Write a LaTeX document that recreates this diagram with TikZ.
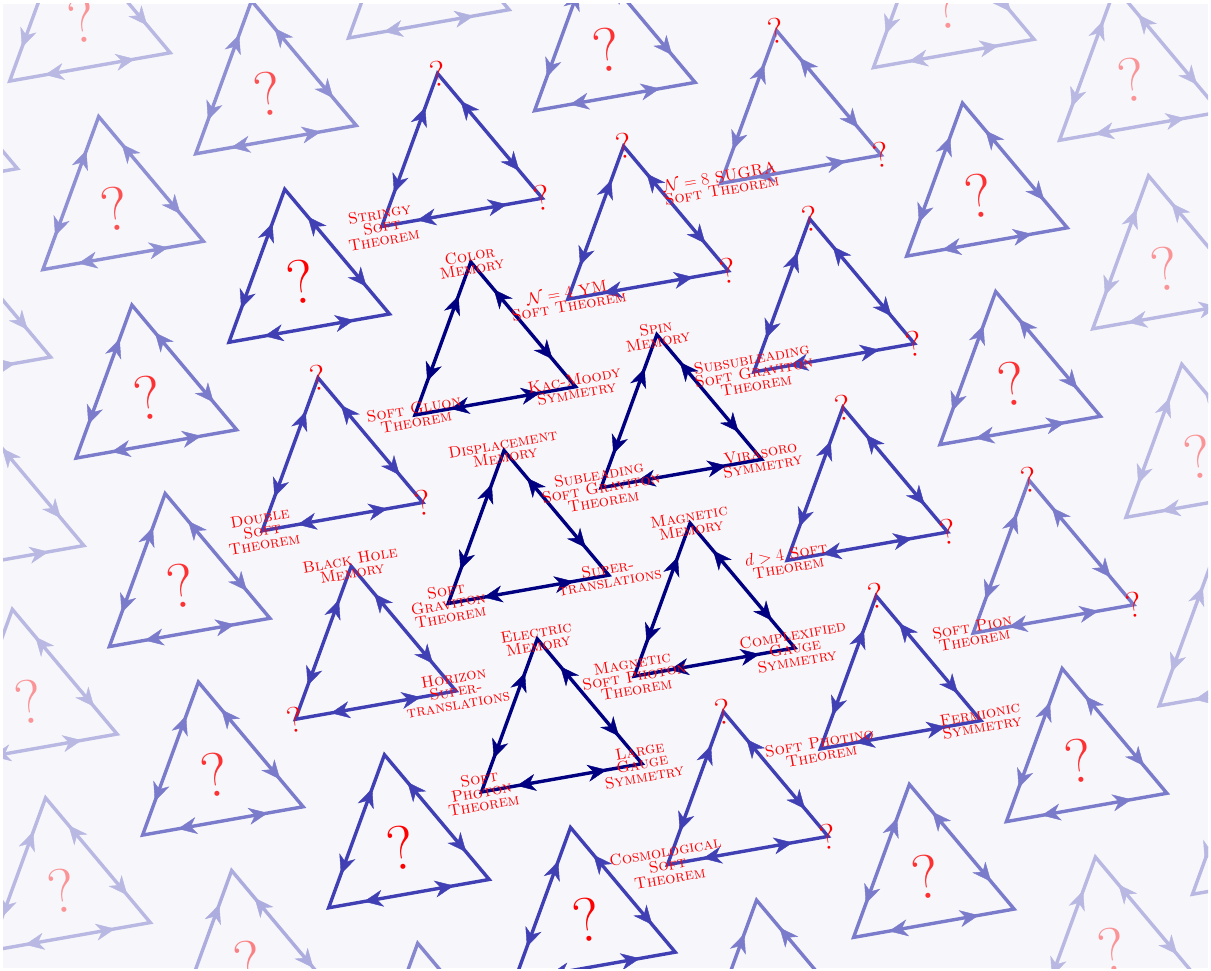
\documentclass[tikz,border=0pt]{standalone}
\usetikzlibrary{arrows.meta,decorations.markings}

\definecolor{paper}{RGB}{246,246,251}
\definecolor{coreblue}{RGB}{0,0,128}
\definecolor{ringblue}{RGB}{0,0,155}
\definecolor{qred}{RGB}{255,0,0}

\tikzset{
  triline/.style={line width=3.4pt, line join=miter},
  both arrows/.style={postaction={decorate}, decoration={markings,
      mark=at position 0.22 with {\arrowreversed{Stealth[length=19pt,width=17pt,inset=6pt]}},
      mark=at position 0.78 with {\arrow{Stealth[length=19pt,width=17pt,inset=6pt]}}}},
  vlabel/.style={text=qred, rotate=10, align=center, inner sep=0pt,
      font=\fontsize{16}{13.3}\selectfont\scshape},
  vq/.style={text=qred, rotate=10, inner sep=0pt, font=\fontsize{36}{36}\selectfont},
  bigq/.style={rotate=10, inner sep=0pt, font=\fontsize{62}{62}\selectfont},
}

% one triangle: #1,#2 lattice steps, #3 colour, #4 name
\newcommand\irtri[4]{%
  \begin{scope}[shift={({(#1)*170.6},{-(#1)*103.9-(#2)*191.4})}]
    \coordinate (#4-L) at (0,0);
    \coordinate (#4-R) at (163,0);
    \coordinate (#4-T) at (81.5,141);
    \coordinate (#4-C) at (81.5,47);
    \draw[triline, color=#3] (#4-L) -- (#4-T) -- (#4-R) -- cycle;
    \path[both arrows, color=#3] (#4-L) -- (#4-T);
    \path[both arrows, color=#3] (#4-T) -- (#4-R);
    \path[both arrows, color=#3] (#4-R) -- (#4-L);
  \end{scope}}

\begin{document}
\begin{tikzpicture}[x=1pt, y=1pt]
  \useasboundingbox (0,-971) rectangle (1211,0);
  \fill[paper] (3,-4) rectangle (1208,-968);
  \begin{scope}
    \clip (3,-4) rectangle (1208,-968);
    \begin{scope}[shift={(415,-415)}, rotate=10]
      % unknown triangles, fading outwards
      \foreach \i/\j/\op in {-1/0/74, -1/3/74, 0/3/74,
          -1/-1/42, -2/0/42, -2/1/50, -2/2/50, -2/3/50, 1/-2/50, 2/2/50,
          3/1/50, 3/-1/50, 3/-2/50, 1/3/50, -1/4/45,
          -2/-1/25, 0/-2/28, -3/0/25, -3/1/25, -3/2/25, -3/3/25, -3/4/25,
          -2/4/30, 3/-3/25, 4/-3/25, 4/-2/25, 4/-1/25, 4/0/25, 4/1/25, 3/2/25}{
        \pgfmathtruncatemacro\qp{min(100,1.6*\op)}
        \irtri{\i}{\j}{ringblue!\op!paper}{o\i\j}
        \node[bigq, text=qred!\qp!paper] (o\i\j-q) at (o\i\j-C) {?};
      }
      % partial triangles
      \irtri{0}{-1}{ringblue!74!paper}{str}
      \irtri{1}{-1}{ringblue!74!paper}{nfour}
      \irtri{2}{-2}{ringblue!50!paper}{neight}
      \irtri{2}{-1}{ringblue!74!paper}{subsub}
      \irtri{-1}{1}{ringblue!74!paper}{dbl}
      \irtri{-1}{2}{ringblue!74!paper}{bh}
      \irtri{2}{0}{ringblue!74!paper}{dfour}
      \irtri{2}{1}{ringblue!74!paper}{phino}
      \irtri{1}{2}{ringblue!74!paper}{cosmo}
      \irtri{3}{0}{ringblue!50!paper}{pion}
      % complete triangles
      \irtri{0}{0}{coreblue}{col}
      \irtri{1}{0}{coreblue}{spin}
      \irtri{0}{1}{coreblue}{disp}
      \irtri{1}{1}{coreblue}{mag}
      \irtri{0}{2}{coreblue}{elec}

      % labels
      \node[vlabel] (colT) at (col-T) {Color\\Memory};
      \node[vlabel] (colL) at (col-L) {Soft Gluon\\Theorem};
      \node[vlabel] (colR) at (col-R) {Kac-Moody\\Symmetry};
      \node[vlabel] (spinT) at (spin-T) {Spin\\Memory};
      \node[vlabel] (spinL) at (spin-L) {Subleading\\Soft Graviton\\Theorem};
      \node[vlabel] (spinR) at (spin-R) {Virasoro\\Symmetry};
      \node[vlabel] (dispT) at (disp-T) {Displacement\\Memory};
      \node[vlabel] (dispL) at (disp-L) {Soft\\Graviton\\Theorem};
      \node[vlabel] (dispR) at (disp-R) {Super-\\translations};
      \node[vlabel] (magT) at (mag-T) {Magnetic\\Memory};
      \node[vlabel] (magL) at (mag-L) {Magnetic\\Soft Photon\\Theorem};
      \node[vlabel] (magR) at (mag-R) {Complexified\\Gauge\\Symmetry};
      \node[vlabel] (elecT) at (elec-T) {Electric\\Memory};
      \node[vlabel] (elecL) at (elec-L) {Soft\\Photon\\Theorem};
      \node[vlabel] (elecR) at (elec-R) {Large\\Gauge\\Symmetry};

      \node[vq] (strT) at (str-T) {?};
      \node[vlabel] (strL) at (str-L) {Stringy\\Soft\\Theorem};
      \node[vq] (strR) at (str-R) {?};
      \node[vq] (nfourT) at (nfour-T) {?};
      \node[vlabel] (nfourL) at (nfour-L) {$\mathcal{N}=4$ YM\\Soft Theorem};
      \node[vq] (nfourR) at (nfour-R) {?};
      \node[vq] (neightT) at (neight-T) {?};
      \node[vlabel] (neightL) at (neight-L) {$\mathcal{N}=8$ SUGRA\\Soft Theorem};
      \node[vq] (neightR) at (neight-R) {?};
      \node[vq] (subsubT) at (subsub-T) {?};
      \node[vlabel] (subsubL) at (subsub-L) {Subsubleading\\Soft Graviton\\Theorem};
      \node[vq] (subsubR) at (subsub-R) {?};
      \node[vq] (dblT) at (dbl-T) {?};
      \node[vlabel] (dblL) at (dbl-L) {Double\\Soft\\Theorem};
      \node[vq] (dblR) at (dbl-R) {?};
      \node[vlabel] (bhT) at (bh-T) {Black Hole\\Memory};
      \node[vq] (bhL) at (bh-L) {?};
      \node[vlabel] (bhR) at (bh-R) {Horizon\\Super-\\translations};
      \node[vq] (dfourT) at (dfour-T) {?};
      \node[vlabel] (dfourL) at (dfour-L) {$d>4$ Soft\\Theorem};
      \node[vq] (dfourR) at (dfour-R) {?};
      \node[vq] (phinoT) at (phino-T) {?};
      \node[vlabel] (phinoL) at (phino-L) {Soft Photino\\Theorem};
      \node[vlabel] (phinoR) at (phino-R) {Fermionic\\Symmetry};
      \node[vq] (cosmoT) at (cosmo-T) {?};
      \node[vlabel] (cosmoL) at (cosmo-L) {Cosmological\\Soft\\Theorem};
      \node[vq] (cosmoR) at (cosmo-R) {?};
      \node[vq] (pionT) at (pion-T) {?};
      \node[vlabel] (pionL) at (pion-L) {Soft Pion\\Theorem};
      \node[vq] (pionR) at (pion-R) {?};
    \end{scope}
  \end{scope}
\end{tikzpicture}
\end{document}
